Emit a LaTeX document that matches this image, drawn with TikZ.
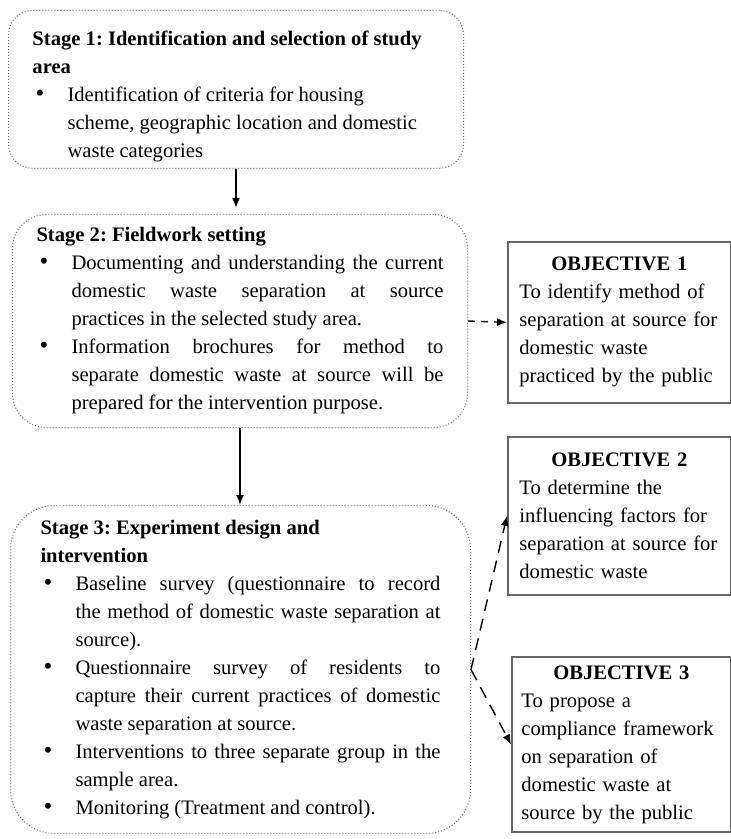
\documentclass[tikz,border=0pt]{standalone}
\usepackage{fontspec}
\setmainfont{Liberation Serif}
\usepackage{enumitem}
\setlist[itemize]{label={\fontsize{12.5}{14}\selectfont\textbullet},leftmargin=17.5pt,labelsep=11.5pt,itemsep=0pt,parsep=0pt,topsep=0pt,partopsep=0pt}
\frenchspacing
\usetikzlibrary{arrows.meta}
\tikzstyle{stage} = [rectangle, anchor=north west, draw=black!55, densely dotted, line width=0.5pt, inner xsep=12pt, text width=203.5pt, align=justify, font=\fontsize{10.3}{14}\selectfont]
\tikzstyle{objective} = [rectangle, anchor=north west, draw=black!60, line width=0.9pt, inner xsep=5.75pt, text width=100pt, font=\fontsize{10.3}{14}\selectfont]
\tikzstyle{flow} = [-{Latex[length=5pt,width=4pt]}, line width=0.8pt]
\tikzstyle{link} = [-{Latex[length=5pt,width=4pt]}, line width=0.7pt, dash pattern=on 6pt off 4pt]

\begin{document}
\begin{tikzpicture}[x=0.5pt, y=-0.5pt]
\useasboundingbox (0,0) rectangle (731,839);

\node (stage1) [stage, rounded corners=12pt, minimum height=76pt] at (8,10) {
\rule{0pt}{14pt}\textbf{Stage 1: Identification and selection of study\\ area}
\begin{itemize}
  \item Identification of criteria for housing\\ scheme, geographic location and domestic\\ waste categories
\end{itemize}};

\node (stage2) [stage, rounded corners=17pt, minimum height=106.5pt] at (12,214) {
\textbf{Stage 2: Fieldwork setting}
\begin{itemize}
  \item Documenting and understanding the current\linebreak domestic waste separation at source\linebreak practices in the selected study area.
  \item Information brochures for method to\linebreak separate domestic waste at source will be\linebreak prepared for the intervention purpose.
\end{itemize}};

\node (stage3) [stage, rounded corners=22pt, text width=200pt, inner xsep=15pt, minimum height=164pt] at (10,505) {
\textbf{Stage 3: Experiment design and\\ intervention}
\begin{itemize}
  \item Baseline survey (questionnaire to record\linebreak the method of domestic waste separation at\linebreak source).
  \item Questionnaire survey of residents to\linebreak capture their current practices of domestic\linebreak waste separation at source.
  \item Interventions to three separate group in the\linebreak sample area.
  \item Monitoring (Treatment and control).
\end{itemize}};

\node (obj1) [objective, minimum height=80.5pt] at (507,241) {\centering\textbf{OBJECTIVE 1}\par\raggedright To identify method of\\ separation at source for\\ domestic waste\\ practiced by the public};

\node (obj2) [objective, minimum height=79pt] at (507,436) {\centering\textbf{OBJECTIVE 2}\par\raggedright To determine the\\ influencing factors for\\ separation at source for\\ domestic waste};

\node (obj3) [objective, inner xsep=4.75pt, minimum height=87.5pt] at (511,656) {\centering\textbf{OBJECTIVE 3}\par\raggedright To propose a\\ compliance framework\\ on separation of\\ domestic waste at\\ source by the public};

\draw[flow, shorten >=3pt] (stage1.south) -- (stage1.south |- stage2.north);
\draw[flow] (stage2.south) -- (stage2.south |- stage3.north);
\draw[link, dash pattern=on 3.5pt off 3pt] (stage2.east) -- (obj1.west);
\draw[link] (stage3.east) -- (obj2.west);
\draw[link] (stage3.east) -- (obj3.west);
\end{tikzpicture}
\end{document}
